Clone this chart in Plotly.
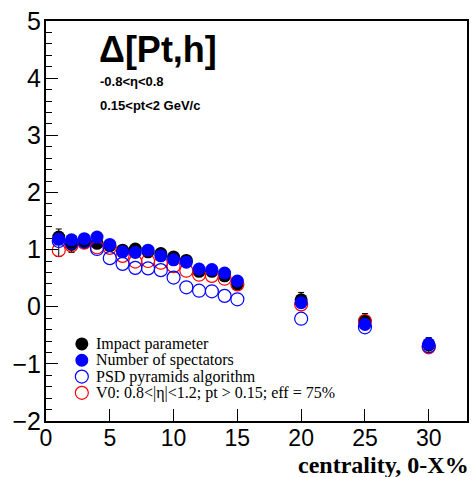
import plotly.graph_objects as go

cent = [1, 2, 3, 4, 5, 6, 7, 8, 9, 10, 11, 12, 13, 14, 15, 20, 25, 30]

impact = [1.22, 1.09, 1.13, 1.11, 1.07, 0.99, 1.01, 0.96, 0.93, 0.87, 0.81, 0.62, 0.62, 0.54, 0.40, 0.12, -0.25, -0.67]
impact_err_plus = [0.14, 0.06, 0.05, 0.05, 0.05, 0.05, 0.05, 0.05, 0.05, 0.05, 0.05, 0.05, 0.05, 0.05, 0.05, 0.13, 0.13, 0.13]
impact_err_minus = [0.34, 0.14, 0.05, 0.05, 0.05, 0.05, 0.05, 0.05, 0.05, 0.05, 0.05, 0.05, 0.05, 0.05, 0.05, 0.13, 0.13, 0.13]

nspec = [1.18, 1.17, 1.19, 1.22, 1.09, 0.96, 0.95, 0.99, 0.89, 0.82, 0.78, 0.66, 0.65, 0.59, 0.45, 0.07, -0.31, -0.65]

psd = [1.15, 1.12, 1.14, 1.01, 0.85, 0.75, 0.68, 0.67, 0.64, 0.51, 0.34, 0.28, 0.27, 0.19, 0.13, -0.21, -0.36, -0.69]

v0 = [0.99, 1.07, 1.12, 1.04, 1.03, 0.89, 0.79, 0.80, 0.77, 0.71, 0.63, 0.56, 0.54, 0.49, 0.39, 0.04, -0.25, -0.71]

names = ["Impact parameter", "Number of spectators", "PSD pyramids algorithm",
         "V0: 0.8<|η|<1.2; pt > 0.15; eff = 75%"]
legend_filled = [True, True, False, False]
legend_colors = ["black", "blue", "blue", "red"]

msize = 13
fig = go.Figure()
fig.add_trace(go.Scatter(x=cent, y=impact, mode="markers", name=names[0],
                         marker=dict(symbol="circle", size=msize, color="black"),
                         error_y=dict(type="data", array=impact_err_plus, arrayminus=impact_err_minus,
                                      color="black", thickness=1, width=3)))
fig.add_trace(go.Scatter(x=cent, y=v0, mode="markers", name=names[3],
                         marker=dict(symbol="circle-open", size=msize, color="red", line=dict(width=1.2))))
fig.add_trace(go.Scatter(x=cent, y=psd, mode="markers", name=names[2],
                         marker=dict(symbol="circle-open", size=msize, color="blue", line=dict(width=1.2))))
fig.add_trace(go.Scatter(x=cent, y=nspec, mode="markers", name=names[1],
                         marker=dict(symbol="circle", size=msize, color="blue")))

fig.update_layout(
    width=476, height=477,
    margin=dict(l=46, r=7, t=16, b=56),
    plot_bgcolor="white", paper_bgcolor="white",
    showlegend=False,
    xaxis=dict(range=[0, 33], tickvals=[0, 5, 10, 15, 20, 25, 30], ticks="inside", ticklen=12,
               tickwidth=1, tickcolor="black", showgrid=False, zeroline=False,
               showline=True, linecolor="black", linewidth=2, mirror=True, ticklabelstandoff=-5,
               tickfont=dict(family="Liberation Sans", size=23, color="black")),
    yaxis=dict(range=[-2, 5], dtick=1, ticks="inside", ticklen=12, tickwidth=1, tickcolor="black",
               showgrid=False, zeroline=False, showline=True, linecolor="black", linewidth=2,
               mirror=True, ticklabelstandoff=-2, tickfont=dict(family="Liberation Sans", size=25, color="black"),
               minor=dict(dtick=0.2, ticks="inside", ticklen=6, tickcolor="black", showgrid=False)),
)

# legend: circular keys + labels, tightly stacked rows as in the reference
row_y = [343, 359.5, 376, 392.5]
key_x = (82 - 46) / 423
for name, filled, col, yp in zip(names, legend_filled, legend_colors, row_y):
    yc = (421 - yp) / 405
    fig.add_shape(type="circle", xref="paper", yref="paper", xsizemode="pixel", ysizemode="pixel",
                  xanchor=key_x, yanchor=yc, x0=-6.5, x1=6.5, y0=-6.5, y1=6.5,
                  fillcolor=col if filled else "rgba(0,0,0,0)",
                  line=dict(color=col, width=1.2 if not filled else 0))
    fig.add_annotation(text=name, xref="paper", yref="paper", x=(94 - 46) / 423, y=yc,
                       xanchor="left", yanchor="middle", showarrow=False,
                       font=dict(family="Liberation Serif", size=16, color="black"))

fig.add_annotation(text="<b>Δ[Pt,h]</b>", xref="paper", yref="paper", x=0.12, y=(421 - 45) / 405,
                   xanchor="left", yanchor="middle", showarrow=False,
                   font=dict(family="Liberation Sans", size=36, color="black"))
fig.add_annotation(text="<b>-0.8<η<0.8</b>", xref="paper", yref="paper", x=0.123, y=(421 - 77) / 405,
                   xanchor="left", yanchor="middle", showarrow=False,
                   font=dict(family="Liberation Sans", size=13, color="black"))
fig.add_annotation(text="<b>0.15<pt<2 GeV/c</b>", xref="paper", yref="paper", x=0.123, y=(421 - 102) / 405,
                   xanchor="left", yanchor="middle", showarrow=False,
                   font=dict(family="Liberation Sans", size=13, color="black"))
fig.add_annotation(text="<b>centrality, 0-X%</b>", xref="paper", yref="paper", x=1.01, y=(421 - 466) / 405,
                   xanchor="right", yanchor="middle", showarrow=False,
                   font=dict(family="Liberation Serif", size=24, color="black"))

fig.write_html("out.html")
